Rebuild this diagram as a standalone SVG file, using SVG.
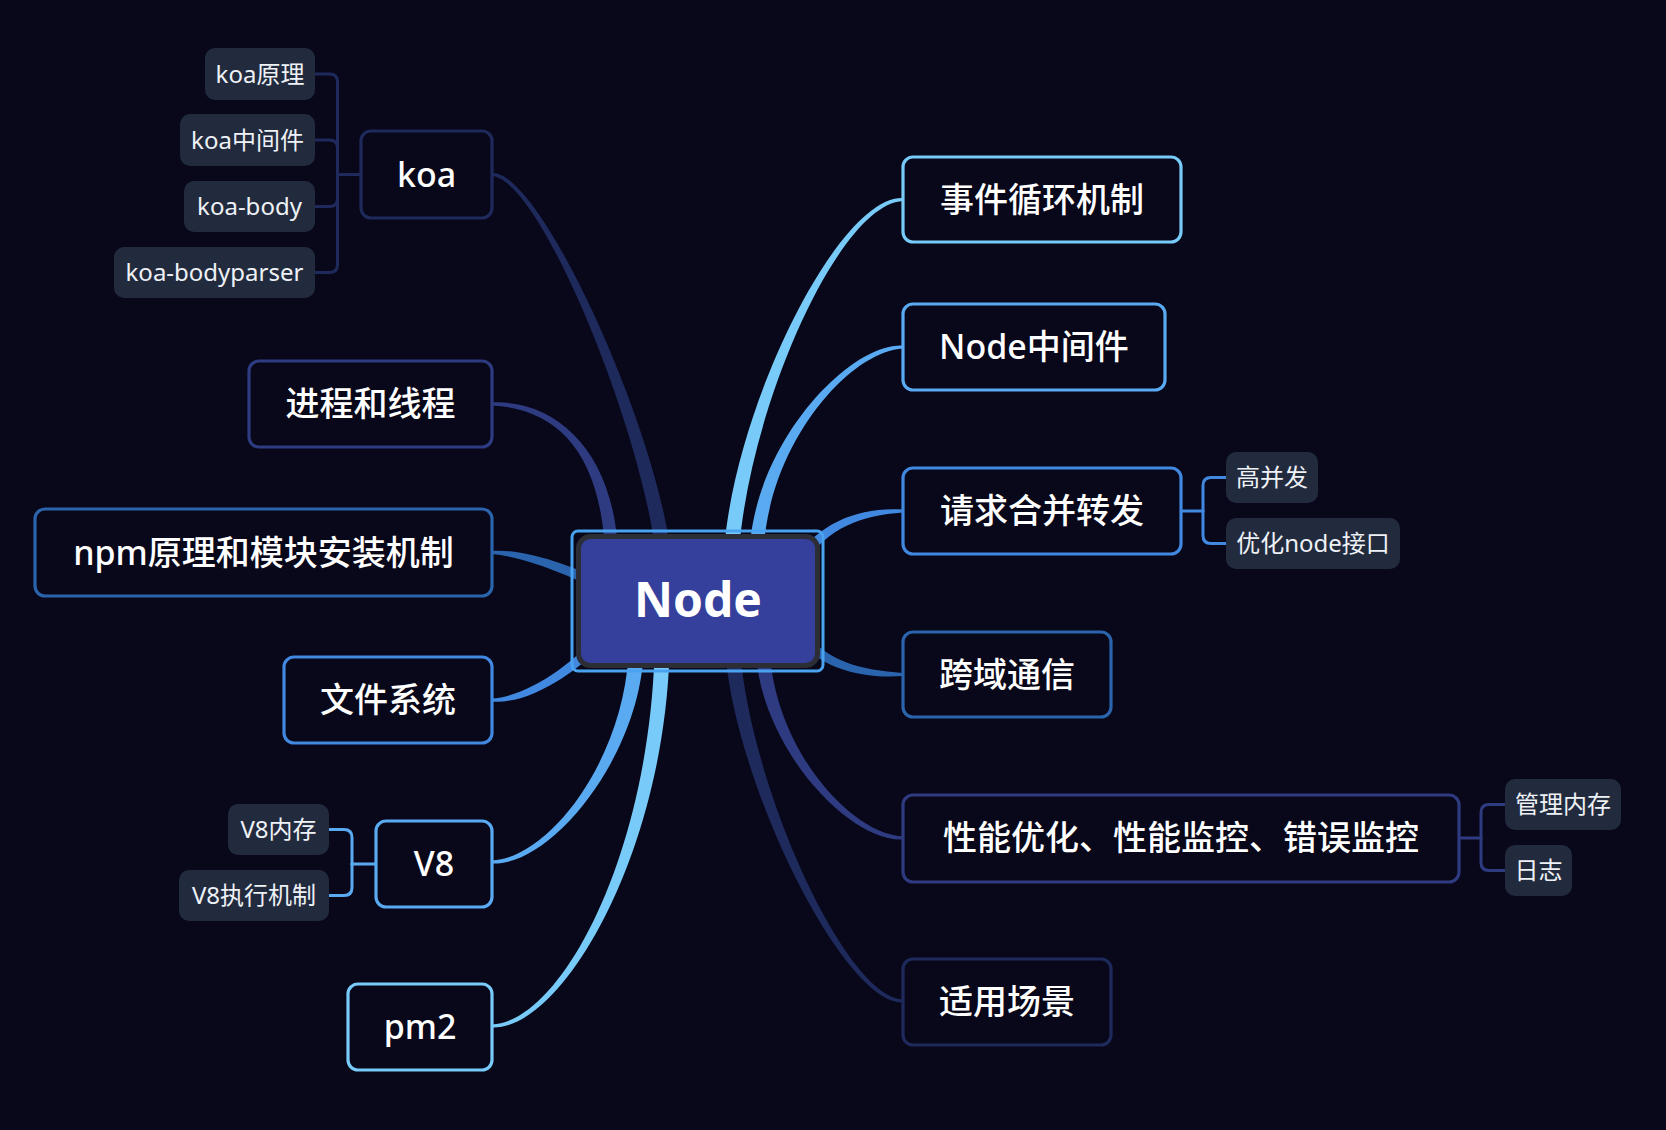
<svg xmlns="http://www.w3.org/2000/svg" width="1666" height="1130" viewBox="0 0 1666 1130">
<style>
.t{font-family:"Noto Sans","Noto Sans CJK SC",sans-serif;text-anchor:middle;fill:#ffffff}
.m{font-size:34px;font-weight:500}
.s{font-size:24px;fill:#eef1f6}
.box{fill:#09071a;stroke-width:3.2}
.sub{fill:#222b3e}
.br{fill:none;stroke-width:3;stroke-linecap:round;stroke-linejoin:round}
.c1{fill:#1e2a5c}.c2{fill:#2e3b80}.c3{fill:#2a64ac}.c4{fill:#4189e0}.c5{fill:#5aaaf2}.c6{fill:#78cbf8}
</style>
<rect x="0" y="0" width="1666" height="1130" fill="#09071a"/>
<g id="connectors">
<path class="c1" d="M669.5,545 C652.5,420 540,170 492,173 L492,176 C540,179 637.5,420 654.5,545 Z"/>
<path class="c2" d="M617.5,545 C611.5,450 555,399.5 492,402.5 L492,405.5 C555,408.5 598.5,450 604.5,545 Z"/>
<path class="c3" d="M612.3,585.6 C577.3,567.6 525,548 492,551 L492,554 C525,557 572.7,576.4 607.7,594.4 Z"/>
<path class="c4" d="M601.3,631.6 C571.3,664.6 530,695.5 492,698.5 L492,701.5 C530,704.5 578.7,671.4 608.7,638.4 Z"/>
<path class="c5" d="M628.5,655 C622.5,760 550,857.5 492,860.5 L492,863.5 C550,866.5 637.5,760 643.5,655 Z"/>
<path class="c6" d="M654.5,655 C647.5,860 560,1021.5 492,1024.5 L492,1027.5 C560,1030.5 662.5,860 669.5,655 Z"/>
<path class="c6" d="M739.5,545 C752.5,400 840,204 903,201 L903,198 C840,195 737.5,400 724.5,545 Z"/>
<path class="c5" d="M764,545 C772,440 850,351.5 903,348.5 L903,345.5 C850,342.5 758,440 750,545 Z"/>
<path class="c4" d="M804.1,562.9 C829.1,527.9 860,515.5 903,512.5 L903,509.5 C860,506.5 820.9,522.1 795.9,557.1 Z"/>
<path class="c3" d="M796.2,638.2 C821.2,668.2 860,679 903,676 L903,673 C860,670 828.8,661.8 803.8,631.8 Z"/>
<path class="c2" d="M756,655 C763,750 850,842.5 903,839.5 L903,836.5 C850,833.5 777,750 770,655 Z"/>
<path class="c1" d="M725.5,655 C737.5,790 845,1005.5 903,1002.5 L903,999.5 C845,996.5 752.5,790 740.5,655 Z"/>
<g class="br" stroke="#1e2a5c">
<path d="M361,174.5 H337.5"/>
<path d="M315,74 H329.5 Q337.5,74 337.5,82 V174.5"/>
<path d="M315,140 H329.5 Q337.5,140 337.5,148 V174.5"/>
<path d="M315,206.5 H329.5 Q337.5,206.5 337.5,198.5 V174.5"/>
<path d="M315,272.5 H329.5 Q337.5,272.5 337.5,264.5 V174.5"/>
</g>
<g class="br" stroke="#5aaaf2">
<path d="M376,864 H352"/>
<path d="M329,829.5 H344 Q352,829.5 352,837.5 V864"/>
<path d="M329,895.5 H344 Q352,895.5 352,887.5 V864"/>
</g>
<g class="br" stroke="#4189e0">
<path d="M1181,511 H1203"/>
<path d="M1226,477.5 H1211 Q1203,477.5 1203,485.5 V511"/>
<path d="M1226,543.5 H1211 Q1203,543.5 1203,535.5 V511"/>
</g>
<g class="br" stroke="#2e3b80">
<path d="M1459,838 H1481"/>
<path d="M1505,804.5 H1489 Q1481,804.5 1481,812.5 V838"/>
<path d="M1505,870.5 H1489 Q1481,870.5 1481,862.5 V838"/>
</g>
</g>
<g id="node-root">
<rect x="572" y="531" width="251" height="140" rx="6" fill="none" stroke="#4aa3f0" stroke-width="3"/>
<rect x="578.5" y="536.5" width="239" height="129" rx="12" fill="#353f9c" stroke="#2d2d36" stroke-width="5"/>
<text class="t" x="698" y="617" font-size="48" font-weight="bold">Node</text>
</g>
<g id="node-koa"><rect class="box" x="361" y="131" width="131" height="87" rx="10" stroke="#1e2a5c"/><text class="t m" x="426.5" y="186.5">koa</text></g>
<g id="node-process"><rect class="box" x="249" y="361" width="243" height="86" rx="10" stroke="#2e3b80"/><text class="t m" x="370.5" y="416">进程和线程</text></g>
<g id="node-npm"><rect class="box" x="35" y="509" width="457" height="87" rx="10" stroke="#2a64ac"/><text class="t m" x="263.5" y="564.5">npm原理和模块安装机制</text></g>
<g id="node-fs"><rect class="box" x="284" y="657" width="208" height="86" rx="10" stroke="#4189e0"/><text class="t m" x="388" y="712">文件系统</text></g>
<g id="node-v8"><rect class="box" x="376" y="821" width="116" height="86" rx="10" stroke="#5aaaf2"/><text class="t m" x="434" y="876">V8</text></g>
<g id="node-pm2"><rect class="box" x="348" y="984" width="144" height="86" rx="10" stroke="#78cbf8"/><text class="t m" x="420" y="1039">pm2</text></g>
<g id="node-eventloop"><rect class="box" x="903" y="157" width="278" height="85" rx="10" stroke="#78cbf8"/><text class="t m" x="1042" y="211.5">事件循环机制</text></g>
<g id="node-middleware"><rect class="box" x="903" y="304" width="262" height="86" rx="10" stroke="#5aaaf2"/><text class="t m" x="1034" y="359">Node中间件</text></g>
<g id="node-request"><rect class="box" x="903" y="468" width="278" height="86" rx="10" stroke="#4189e0"/><text class="t m" x="1042" y="523">请求合并转发</text></g>
<g id="node-cors"><rect class="box" x="903" y="632" width="208" height="85" rx="10" stroke="#2a64ac"/><text class="t m" x="1007" y="686.5">跨域通信</text></g>
<g id="node-perf"><rect class="box" x="903" y="795" width="556" height="87" rx="10" stroke="#2e3b80"/><text class="t m" x="1181" y="850">性能优化、性能监控、错误监控</text></g>
<g id="node-scene"><rect class="box" x="903" y="959" width="208" height="86" rx="10" stroke="#1e2a5c"/><text class="t m" x="1007" y="1014">适用场景</text></g>
<g id="node-koa1"><rect class="sub" x="205" y="48" width="110" height="52" rx="10"/><text class="t s" x="260" y="82.5">koa原理</text></g>
<g id="node-koa2"><rect class="sub" x="180" y="114" width="135" height="52" rx="10"/><text class="t s" x="247.5" y="148.5">koa中间件</text></g>
<g id="node-koa3"><rect class="sub" x="184" y="181" width="131" height="51" rx="10"/><text class="t s" x="249.5" y="215">koa-body</text></g>
<g id="node-koa4"><rect class="sub" x="114" y="247" width="201" height="51" rx="10"/><text class="t s" x="214.5" y="281">koa-bodyparser</text></g>
<g id="node-v81"><rect class="sub" x="228" y="804" width="101" height="51" rx="10"/><text class="t s" x="278.5" y="838">V8内存</text></g>
<g id="node-v82"><rect class="sub" x="179" y="870" width="150" height="51" rx="10"/><text class="t s" x="254" y="904">V8执行机制</text></g>
<g id="node-req1"><rect class="sub" x="1226" y="452" width="92" height="51" rx="10"/><text class="t s" x="1272" y="486">高并发</text></g>
<g id="node-req2"><rect class="sub" x="1226" y="518" width="174" height="51" rx="10"/><text class="t s" x="1313" y="552">优化node接口</text></g>
<g id="node-perf1"><rect class="sub" x="1505" y="779" width="116" height="51" rx="10"/><text class="t s" x="1563" y="813">管理内存</text></g>
<g id="node-perf2"><rect class="sub" x="1505" y="845" width="67" height="51" rx="10"/><text class="t s" x="1538.5" y="879">日志</text></g>
</svg>
